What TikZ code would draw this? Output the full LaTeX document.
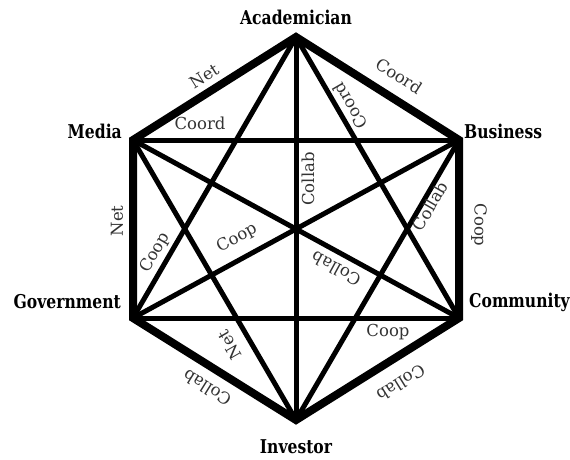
\documentclass[tikz,border=0pt]{standalone}
\usepackage{fontspec}
\newfontfamily\elfont{DejaVu Serif}
\newfontfamily\vfont{DejaVu Serif}[FakeStretch=0.82]
\begin{document}
\begin{tikzpicture}[x=1pt,y=1pt,
  inner/.style={line width=5pt},
  rim/.style={line width=8pt, line join=miter},
  vlab/.style={font=\vfont\bfseries\fontsize{19}{19}\selectfont, inner sep=0pt},
  elab/.style={font=\elfont\fontsize{16.5}{16.5}\selectfont, text=black!80, inner sep=0pt}]
\useasboundingbox (0,0) rectangle (570,459);
\coordinate (A) at (296,422);
\coordinate (B) at (459,319);
\coordinate (C) at (459,141);
\coordinate (I) at (296,39);
\coordinate (G) at (133,141);
\coordinate (M) at (133,319);
% inner connectors
\draw[inner] (A) -- (I);
\draw[inner] (M) -- (C);
\draw[inner] (B) -- (G);
\draw[inner] (A) -- (G);
\draw[inner] (A) -- (C);
\draw[inner] (M) -- (B);
\draw[inner] (G) -- (C);
\draw[inner] (M) -- (I);
\draw[inner] (B) -- (I);
% rim
\draw[rim] (A) -- (B) -- (C) -- (I) -- (G) -- (M) -- cycle;
% vertex labels
\node[vlab] (lA) at (296,442) {Academician};
\node[vlab, anchor=east] (lM) at (122,328) {Media};
\node[vlab, anchor=west] (lB) at (464,328) {Business};
\node[vlab, anchor=east] (lG) at (121,157) {Government};
\node[vlab, anchor=west] (lC) at (469,157) {Community};
\node[vlab] (lI) at (296,12) {Investor};
% edge labels
\node[elab, rotate=32.3] (e1) at (204,383) {Net};
\node[elab, rotate=-32.3] (e2) at (399,383) {Coord};
\node[elab] (e3) at (200,336) {Coord};
\node[elab, rotate=120] (e4) at (350,353) {Coord};
\node[elab, rotate=90] (e5) at (308,280) {Collab};
\node[elab, rotate=59.8] (e6) at (430,253) {Collab};
\node[elab, rotate=-90] (e7) at (479,234) {Coop};
\node[elab, rotate=151.4] (e8) at (336,190) {Collab};
\node[elab, rotate=28.6] (e9) at (237,221) {Coop};
\node[elab, rotate=59.9] (e10) at (155,206) {Coop};
\node[elab, rotate=90] (e11) at (117,238) {Net};
\node[elab, rotate=120] (e12) at (230,114) {Net};
\node[elab] (e13) at (388,127) {Coop};
\node[elab, rotate=148] (e14) at (207,71) {Collab};
\node[elab, rotate=-148] (e15) at (401,76) {Collab};
\end{tikzpicture}
\end{document}
